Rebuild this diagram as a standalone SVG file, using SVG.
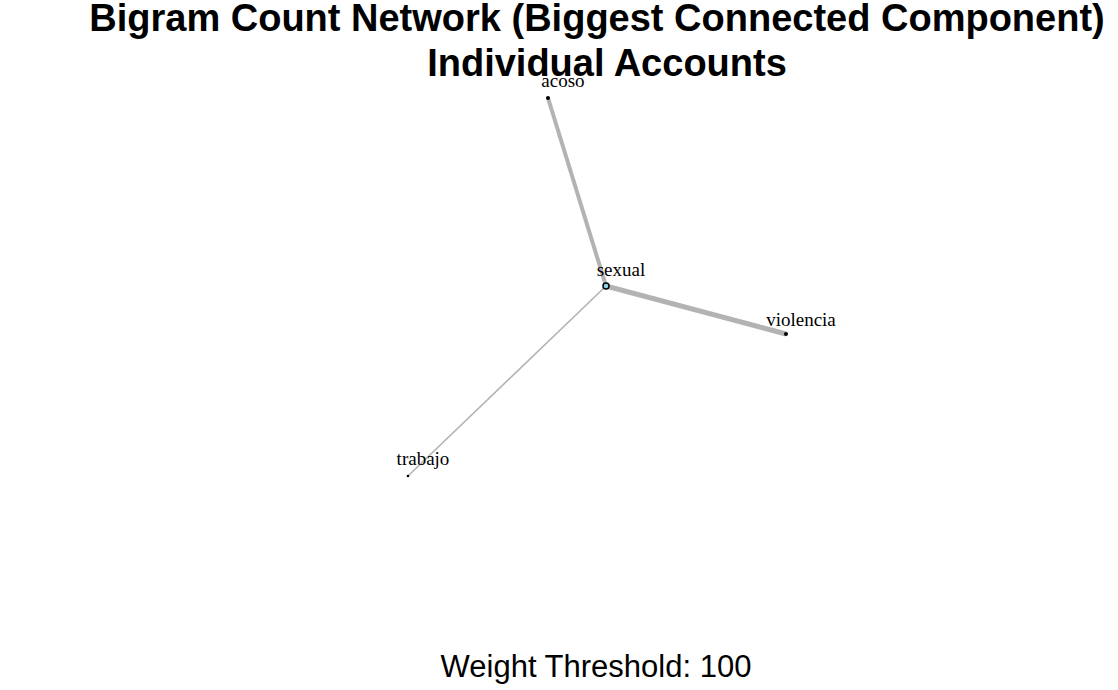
<svg xmlns="http://www.w3.org/2000/svg" width="1118" height="690" viewBox="0 0 1118 690">
<style>
.title{font-family:"Liberation Sans",Arial,sans-serif;font-weight:bold;font-size:38px;fill:#000;text-anchor:middle}
.lbl{font-family:"Liberation Serif","Times New Roman",serif;font-size:19px;fill:#000;text-anchor:middle}
.edge{stroke:#b3b3b3;stroke-linecap:butt;fill:none}
.cap{font-family:"Liberation Sans",Arial,sans-serif;font-size:31px;fill:#000;text-anchor:middle}
</style>
<rect width="1118" height="690" fill="#fff"/>
<g id="title">
<text class="title" x="597" y="31">Bigram Count Network (Biggest Connected Component)</text>
<text class="title" x="607" y="76">Individual Accounts</text>
</g>
<g id="edges">
<line class="edge" x1="606" y1="286" x2="548" y2="98" stroke-width="4"/>
<line class="edge" x1="606" y1="286" x2="786" y2="334" stroke-width="5"/>
<line class="edge" x1="606" y1="286" x2="408" y2="476" stroke-width="1.6"/>
</g>
<g id="node-acoso">
<circle cx="548" cy="98" r="2" fill="#000"/>
<text class="lbl" x="563" y="87">acoso</text>
</g>
<g id="node-sexual">
<circle cx="606" cy="286" r="3" fill="#8fd8ec" stroke="#000" stroke-width="1.5"/>
<text class="lbl" x="621" y="276">sexual</text>
</g>
<g id="node-violencia">
<circle cx="786" cy="334" r="2" fill="#000"/>
<text class="lbl" x="801" y="326">violencia</text>
</g>
<g id="node-trabajo">
<circle cx="408" cy="476" r="1.3" fill="#000"/>
<text class="lbl" x="423" y="465">trabajo</text>
</g>
<text class="cap" x="596" y="677">Weight Threshold: 100</text>
</svg>
